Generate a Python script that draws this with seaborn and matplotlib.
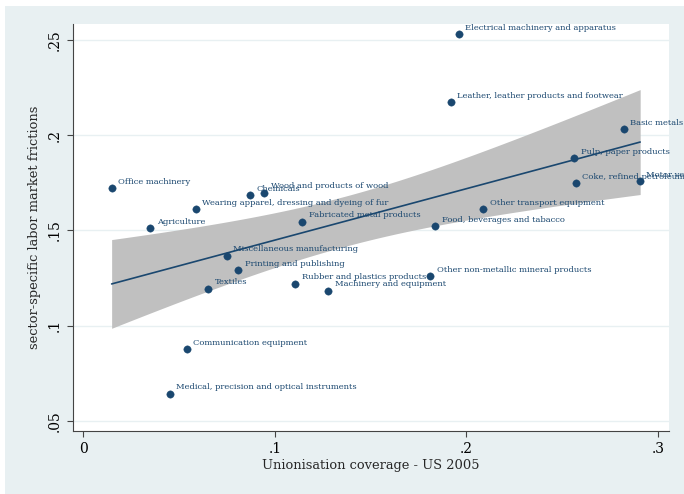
import numpy as np
import pandas as pd
import matplotlib
matplotlib.use("Agg")
import matplotlib.pyplot as plt
from matplotlib.patches import Rectangle
import seaborn as sns

# Sector-level data: union coverage vs. labour market frictions
sectors = [
    "Office machinery", "Chemicals", "Wood and products of wood",
    "Wearing apparel, dressing and dyeing of fur", "Agriculture",
    "Fabricated metal products", "Electrical machinery and apparatus",
    "Leather, leather products and footwear", "Basic metals",
    "Pulp, paper products", "Coke, refined petroleum", "Motor vehicles",
    "Other transport equipment", "Food, beverages and tabacco",
    "Miscellaneous manufacturing", "Printing and publishing", "Textiles",
    "Rubber and plastics products", "Machinery and equipment",
    "Communication equipment", "Medical, precision and optical instruments",
    "Other non-metallic mineral products",
]
union_cov = [0.0147, 0.0870, 0.0945, 0.0588, 0.0349, 0.1143, 0.1960,
             0.1920, 0.2822, 0.2564, 0.2573, 0.2908, 0.2089, 0.1838,
             0.0750, 0.0809, 0.0652, 0.1107, 0.1279, 0.0541, 0.0450,
             0.1812]
frictions = [0.1721, 0.1686, 0.1698, 0.1611, 0.1513, 0.1546, 0.2530,
             0.2173, 0.2031, 0.1880, 0.1747, 0.1759, 0.1612, 0.1523,
             0.1367, 0.1292, 0.1194, 0.1220, 0.1183, 0.0877, 0.0642,
             0.1260]

x_ticks = [0, 0.1, 0.2, 0.3]
x_ticklabels = ["0", ".1", ".2", ".3"]
y_ticks = [0.05, 0.10, 0.15, 0.20, 0.25]
y_ticklabels = [".05", ".1", ".15", ".2", ".25"]

df = pd.DataFrame({"sector": sectors, "x": union_cov, "y": frictions})

NAVY = "#1a476f"
BAND = "#c0c0c0"
REGION = "#e8f0f2"
FONT = "DejaVu Serif"

sns.set_theme(style="white")
plt.rcParams["font.family"] = [FONT]

W, H = 684, 494
fig = plt.figure(figsize=(W / 100, H / 100), dpi=100, facecolor=REGION)
# thin white margin along the left and top edges
fig.patches.append(Rectangle((0, 0), 5 / W, 1, transform=fig.transFigure,
                             facecolor="white", edgecolor="none", zorder=-10))
fig.patches.append(Rectangle((0, (H - 6) / H), 1, 6 / H, transform=fig.transFigure,
                             facecolor="white", edgecolor="none", zorder=-10))

ax = fig.add_axes([72.7 / W, (H - 431) / H, (668.7 - 72.7) / W, (431 - 24) / H])
ax.set_facecolor("white")

# Linear fit with 90% confidence interval of the mean prediction
x = df["x"].to_numpy()
y = df["y"].to_numpy()
n = len(x)
b1, b0 = np.polyfit(x, y, 1)
resid = y - (b0 + b1 * x)
s = np.sqrt(np.sum(resid ** 2) / (n - 2))
xg = np.linspace(x.min(), x.max(), 200)
se = s * np.sqrt(1 / n + (xg - x.mean()) ** 2 / np.sum((x - x.mean()) ** 2))
tcrit = 1.725  # t(0.95, 20)
yhat = b0 + b1 * xg
ax.fill_between(xg, yhat - tcrit * se, yhat + tcrit * se, color=BAND, lw=0, zorder=1)
fit = pd.DataFrame({"x": xg, "y": yhat})
sns.lineplot(data=fit, x="x", y="y", ax=ax, color=NAVY, lw=1.2, zorder=4)

sns.scatterplot(data=df, x="x", y="y", ax=ax, color=NAVY, s=28,
                edgecolor=NAVY, linewidth=0.3, zorder=5)

for _, r in df.iterrows():
    ax.annotate(r["sector"], (r["x"], r["y"]), xytext=(4.5, 4.5),
                textcoords="offset points", ha="left", va="center",
                fontsize=6.0, color=NAVY, family=FONT, zorder=3,
                annotation_clip=False)

ax.set_xlim(-0.00564, 0.3057)
ax.set_ylim(0.0446, 0.2584)
ax.set_xticks(x_ticks)
ax.set_xticklabels(x_ticklabels)
ax.set_yticks(y_ticks)
ax.set_yticklabels(y_ticklabels, rotation=90, va="center")

ax.yaxis.grid(True, color=REGION, lw=1.0, zorder=0)
ax.xaxis.grid(False)
ax.set_axisbelow(True)

for side in ["top", "right"]:
    ax.spines[side].set_visible(False)
for side in ["left", "bottom"]:
    ax.spines[side].set_color("#444444")
    ax.spines[side].set_linewidth(0.8)

ax.tick_params(axis="both", direction="out", length=4, width=0.8, color="#444444",
               labelsize=10, labelcolor="black", pad=4,
               bottom=True, left=True)
ax.set_xlabel("Unionisation coverage - US 2005", fontsize=9.4, family=FONT, labelpad=2)
ax.set_ylabel("sector-specific labor market frictions", fontsize=9.4, family=FONT, labelpad=5)

fig.savefig("out.png", dpi=100, facecolor=fig.get_facecolor())
